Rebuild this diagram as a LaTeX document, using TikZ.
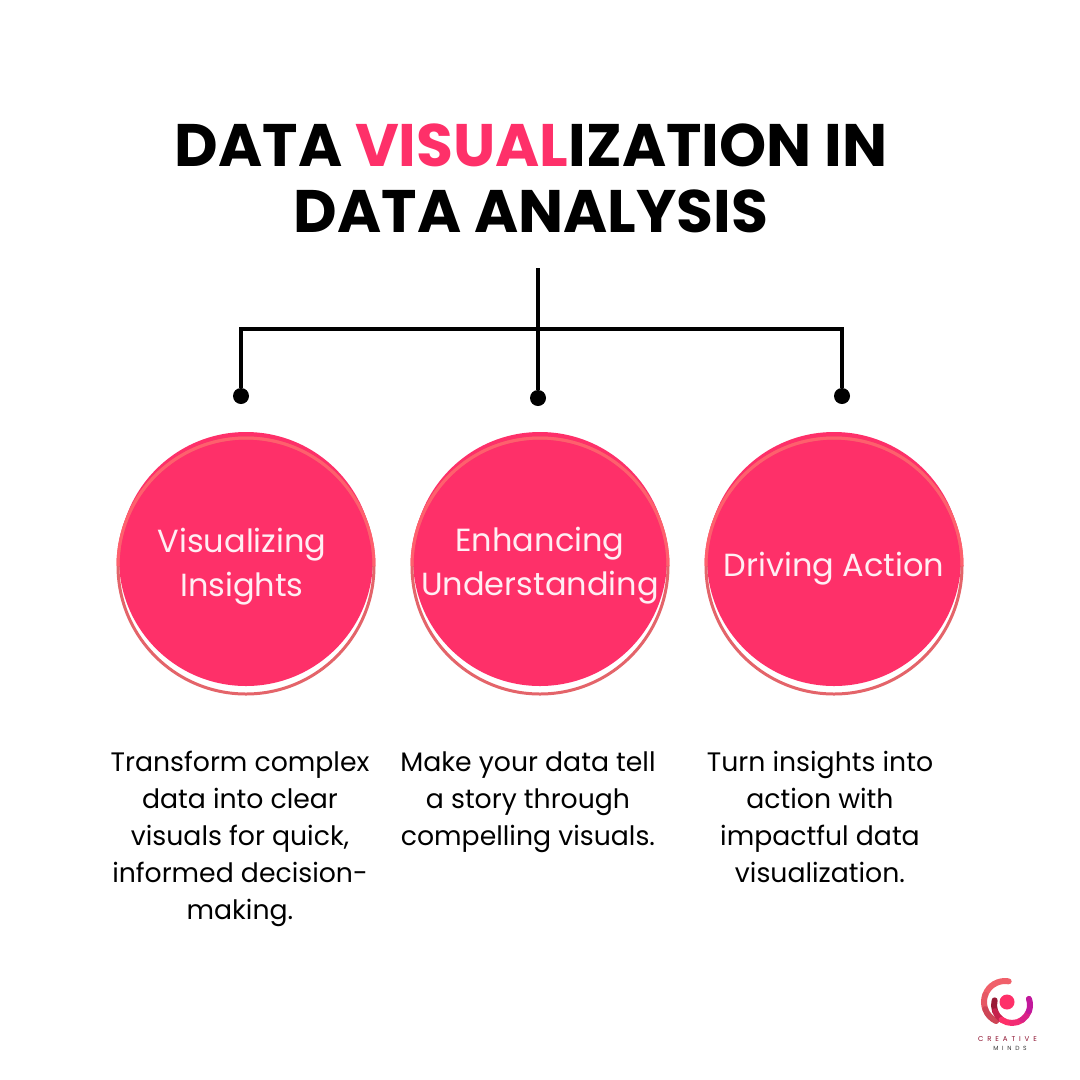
\documentclass[tikz,border=0pt]{standalone}
\usepackage{fontspec}
\setmainfont{Poppins}
\definecolor{hotpink}{HTML}{FE3069}
\definecolor{ringtop}{HTML}{FF5F6D}
\definecolor{ringlow}{HTML}{E4646A}
\definecolor{logomag}{HTML}{C2189B}
\definecolor{logored}{HTML}{F0606A}
\definecolor{logodark}{HTML}{8E1230}
\tikzset{
    ball/.style={circle, fill=hotpink, minimum size=254pt, inner sep=0pt},
    ring/.style={circle, draw=ringlow, line width=3pt, minimum size=256pt, inner sep=0pt},
    ringup/.style={draw=ringtop, line width=3pt},
    balltext/.style={text=white!92!hotpink, align=center, font=\fontsize{32}{44}\selectfont},
    bodytext/.style={text=black, align=center, font=\fontsize{26.7}{37}\selectfont},
    titletext/.style={text=black, align=center, font=\fontsize{60}{66}\selectfont\bfseries},
    enddot/.style={circle, fill=black, minimum size=16pt, inner sep=0pt},
    wire/.style={draw=black, line width=4pt},
    logoline/.style={line width=6pt, line cap=round}
}
\begin{document}
\begin{tikzpicture}[x=1pt, y=-1pt]
    \useasboundingbox (0,0) rectangle (1080,1080);
    \fill[white] (0,0) rectangle (1080,1080);

    % Title
    \node[titletext] (title) at (531,178.5) {DATA \textcolor{hotpink}{VISUAL}IZATION IN\\DATA ANALYSIS};

    % Draw connections
    \coordinate (top) at (538,268);
    \coordinate (cornerl) at (241,329);
    \coordinate (cornerr) at (842,329);
    \node[enddot] (dotl) at (241,396) {};
    \node[enddot] (dotm) at (538,398) {};
    \node[enddot] (dotr) at (842,396) {};
    \draw[wire] (dotl) -- (cornerl) -- (cornerr) -- (dotr);
    \draw[wire] (top) -- (dotm);

    % Draw circles
    \node[ball] (ball1) at (246,559) {};
    \node[ball] (ball2) at (540,559) {};
    \node[ball] (ball3) at (834,559) {};
    \node[ring] (ring1) at (246,566) {};
    \node[ring] (ring2) at (540,566) {};
    \node[ring] (ring3) at (834,566) {};
    \draw[ringup] (ring1.center) ++(180:128pt) arc (180:0:128pt);
    \draw[ringup] (ring2.center) ++(180:128pt) arc (180:0:128pt);
    \draw[ringup] (ring3.center) ++(180:128pt) arc (180:0:128pt);

    % Labels
    \node[balltext] (head1) at (242,567) {Visualizing\\Insights};
    \node[balltext] (head2) at (540,566) {Enhancing\\Understanding};
    \node[balltext] (head3) at (834,569) {Driving Action};
    \node[bodytext] (text1) at (240,839) {Transform complex\\data into clear\\visuals for quick,\\informed decision-\\making.};
    \node[bodytext] (text2) at (528,802) {Make your data tell\\a story through\\compelling visuals.};
    \node[bodytext] (text3) at (820,817) {Turn insights into\\action with\\impactful data\\visualization.};

    % Logo
    \coordinate (logoa) at (1005,1002);
    \coordinate (logob) at (1012,1005);
    \foreach \a/\b/\m in {80/120/0, 120/160/0, 160/200/10, 200/245/35}
        \draw[logoline, color=logodark!\m!logored] (logoa) ++(\a:21pt) arc (\a:\b:21pt);
    \foreach \a/\b/\c in {165/200/logodark!90!logored, 200/235/logodark!50!hotpink, 235/270/hotpink, 270/305/hotpink!80!logomag, 305/340/hotpink!40!logomag, 340/380/logomag}
        \draw[logoline, color=\c] (logob) ++(\a:18pt) arc (\a:\b:18pt);
    \node[circle, fill=hotpink, minimum size=15pt, inner sep=0pt] (logodot) at (1007,1002) {};
    \node[font=\fontsize{7}{7}\selectfont\addfontfeature{LetterSpace=55}, text=logodark] (logoname) at (1007.5,1039) {CREATIVE};
    \node[font=\fontsize{6}{6}\selectfont\addfontfeature{LetterSpace=62}, text=black!80] (logosub) at (1010,1048) {MINDS};
\end{tikzpicture}
\end{document}
